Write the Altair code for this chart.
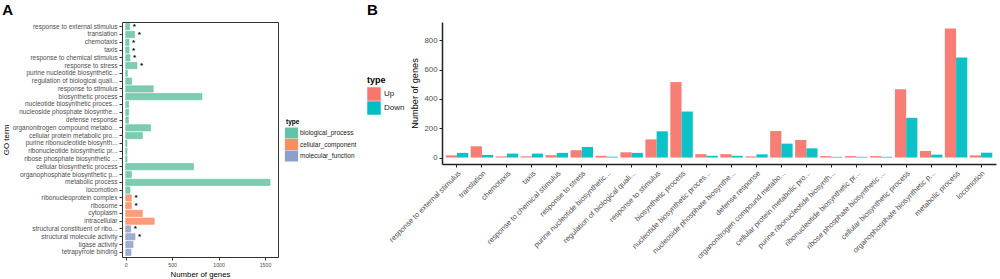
import altair as alt
import pandas as pd

terms = [
    "response to external stimulus", "translation", "chemotaxis", "taxis",
    "response to chemical stimulus", "response to stress",
    "purine nucleotide biosynthetic...", "regulation of biological quali...",
    "response to stimulus", "biosynthetic process",
    "nucleotide biosynthetic proces...", "nucleoside phosphate biosynthe...",
    "defense response", "organonitrogen compound metabo...",
    "cellular protein metabolic pro...", "purine ribonucleotide biosynth...",
    "ribonucleotide biosynthetic pr...", "ribose phosphate biosynthetic ...",
    "cellular biosynthetic process", "organophosphate biosynthetic p...",
    "metabolic process", "locomotion",
    "ribonucleoprotein complex", "ribosome", "cytoplasm", "intracellular",
    "structural constituent of ribo...", "structural molecule activity",
    "ligase activity", "tetrapyrrole binding",
]
counts = [43, 96, 36, 36, 46, 121, 18, 64, 296, 821, 32, 32, 29, 268, 179,
          14, 14, 14, 729, 61, 1554, 46, 61, 61, 179, 307, 54, 100, 79, 57]
types = (["biological_process"] * 22 + ["cellular_component"] * 4
         + ["molecular_function"] * 4)
starred = [1, 1, 1, 1, 1, 1, 0, 0, 0, 0, 0, 0, 0, 0, 0, 0, 0, 0, 0, 0, 0, 0,
           1, 1, 0, 0, 1, 1, 0, 0]

type_names = ["biological_process", "cellular_component", "molecular_function"]
type_colors = ["#66C2A5", "#FC8D62", "#8DA0CB"]

b_terms = terms[:22]
up = [15, 77, 8, 8, 16, 50, 12, 36, 124, 515, 23, 23, 8, 181, 120,
      10, 10, 10, 466, 45, 881, 15]
down = [32, 18, 27, 27, 32, 72, 6, 32, 179, 314, 12, 12, 22, 95, 63,
        5, 5, 5, 271, 20, 683, 33]
dir_names = ["Up", "Down"]
dir_colors = ["#F8766D", "#00BFC4"]

dfA = pd.DataFrame({"term": terms, "count": counts, "type": types,
                    "star": starred})
dfB = pd.DataFrame({"term": b_terms * 2, "count": up + down,
                    "type": ["Up"] * len(up) + ["Down"] * len(down)})

grey = "#4d4d4d"

# ---------------- Panel A ----------------
yA = alt.Y("term:N", sort=terms, title="GO term",
           scale=alt.Scale(paddingInner=0.2, paddingOuter=0.2),
           axis=alt.Axis(labelFontSize=6.5, labelColor=grey, tickColor="#333",
                         tickSize=3, domain=False, titleFontSize=8,
                         titleFontWeight="normal", labelLimit=200,
                         labelPadding=2, titlePadding=2))
xA = alt.X("count:Q", title="Number of genes",
           scale=alt.Scale(domain=[-40, 1640], nice=False, zero=False),
           axis=alt.Axis(values=[0, 500, 1000, 1500], format="d",
                         labelFontSize=5.2, labelColor=grey, grid=False,
                         domain=False, tickColor="#333", tickSize=3,
                         titleFontSize=7.8, titleFontWeight="normal",
                         titlePadding=3))

colorA = alt.Color("type:N",
                   scale=alt.Scale(domain=type_names, range=type_colors),
                   legend=alt.Legend(orient="none", legendX=164, legendY=97,
                                     title="type", titleFontSize=6.5,
                                     titleFontWeight="bold", labelFontSize=6.5,
                                     labelColor="#222",
                                     symbolType="M-1.2,-1H1.2V1H-1.2Z",
                                     symbolSize=121, symbolStrokeWidth=0,
                                     rowPadding=0.5, titlePadding=2,
                                     labelOffset=3))
strokeA = alt.Stroke("type:N",
                     scale=alt.Scale(domain=type_names, range=type_colors),
                     legend=None)

barsA = alt.Chart(dfA).mark_bar(fillOpacity=0.85, strokeWidth=0.6).encode(
    y=yA, x=xA, x2=alt.datum(0), color=colorA, stroke=strokeA)
starsA = alt.Chart(dfA).transform_filter("datum.star == 1").mark_text(
    text="*", align="left", baseline="middle", dx=3, dy=0.5, fontSize=8,
    fontWeight="bold", color="black").encode(y=alt.Y("term:N", sort=terms),
                                             x=alt.X("count:Q"))

panelA = alt.layer(barsA, starsA).properties(
    width=156, height=235,
    title=alt.TitleParams("A", anchor="start", frame="bounds", fontSize=15,
                          fontWeight="bold", offset=4),
    view=alt.ViewBackground(stroke="#333", strokeWidth=1))

# ---------------- Panel B ----------------
xB = alt.X("term:N", sort=b_terms, title=None,
           scale=alt.Scale(paddingInner=0.1, paddingOuter=0.15),
           axis=alt.Axis(labelAngle=-45, labelAlign="right",
                         labelBaseline="top", labelFontSize=7.5,
                         labelColor=grey, labelLimit=200, domainColor="#222",
                         domainWidth=1.5, tickColor="#222", tickSize=3,
                         labelPadding=2))
yB = alt.Y("count:Q", title="Number of genes",
           scale=alt.Scale(domain=[-44, 925], nice=False, zero=False),
           axis=alt.Axis(values=[0, 200, 400, 600, 800], grid=False,
                         labelFontSize=7.8, labelColor=grey,
                         domainColor="#222", domainWidth=1.5,
                         tickColor="#222", tickSize=3, titleFontSize=9.2,
                         titleFontWeight="normal", titlePadding=4))
colorB = alt.Color("type:N", sort=dir_names,
                   scale=alt.Scale(domain=dir_names, range=dir_colors),
                   legend=alt.Legend(orient="none", legendX=-75, legendY=54,
                                     title="type", titleFontSize=9,
                                     titleFontWeight="bold", labelFontSize=8,
                                     labelColor="#222", symbolType="square",
                                     symbolSize=182, symbolStrokeWidth=0,
                                     rowPadding=0, titlePadding=2,
                                     labelOffset=3))

panelB = alt.Chart(dfB).mark_bar(fillOpacity=0.95).encode(
    x=xB,
    xOffset=alt.XOffset("type:N", sort=dir_names,
                        scale=alt.Scale(domain=dir_names, paddingInner=0,
                                        paddingOuter=0)),
    y=yB, y2=alt.datum(0), color=colorB,
).properties(
    width=554, height=142,
    title=alt.TitleParams("B", anchor="start", frame="bounds", fontSize=15,
                          fontWeight="bold", offset=4),
    view=alt.ViewBackground(stroke="transparent"))

chart = alt.hconcat(panelA, panelB, spacing=8).resolve_scale(
    color="independent", stroke="independent", x="independent",
    y="independent").configure(font="Liberation Sans").properties(
    padding={"left": 1, "top": 2, "right": 2, "bottom": 0})

chart.save("out.html", embed_options={"renderer": "svg", "actions": False})
